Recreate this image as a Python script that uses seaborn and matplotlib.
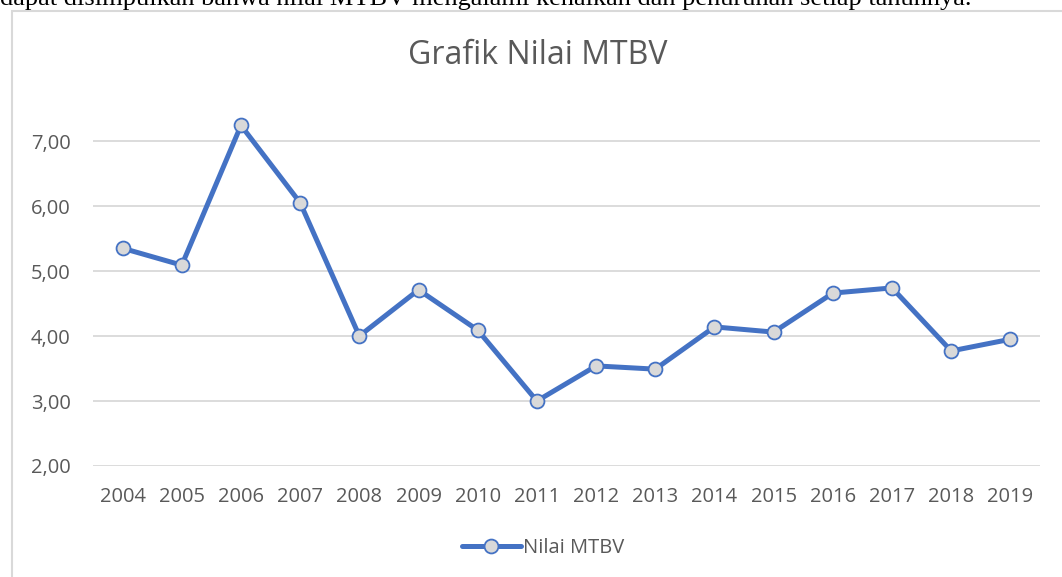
import pandas as pd
import numpy as np
import matplotlib
matplotlib.use('Agg')
import matplotlib.pyplot as plt
from matplotlib.patches import Rectangle
import seaborn as sns

######################################## data ########################################
years = ['2004', '2005', '2006', '2007', '2008', '2009', '2010', '2011',
         '2012', '2013', '2014', '2015', '2016', '2017', '2018', '2019']
mtbv = [5.35, 5.09, 7.24, 6.05, 4.00, 4.71, 4.09, 3.00,
        3.54, 3.49, 4.14, 4.06, 4.66, 4.74, 3.77, 3.95]
yticks = [2, 3, 4, 5, 6, 7]

df = pd.DataFrame({'Tahun': years, 'Nilai MTBV': mtbv})

######################################## plot ########################################
sns.set_style('white')
plt.rcParams['font.family'] = ['Open Sans', 'DejaVu Sans']

W, H = 1062, 577
fig = plt.figure(figsize=(W / 100, H / 100), dpi=100)

# axes placed in pixel terms: left 93, right 1040, 2.00 at y=466
ax = fig.add_axes([93 / W, (H - 466) / H, (1040 - 93) / W, 5.6 * 65 / H])

blue = '#4472C4'
grey_txt = '#595959'

sns.lineplot(data=df, x='Tahun', y='Nilai MTBV', ax=ax, color=blue, linewidth=3.6,
             marker='o', markersize=10, markerfacecolor='#D9D9D9',
             markeredgecolor=blue, markeredgewidth=1.3, label='Nilai MTBV',
             sort=False)

ax.set_ylim(2, 7.6)
ax.set_xlim(-0.5, len(years) - 0.5)
ax.set_yticks(yticks)
ax.set_yticklabels([f'{v:.2f}'.replace('.', ',') for v in yticks])
ax.grid(axis='y', color='#D9D9D9', linewidth=1.3)
ax.set_axisbelow(True)
for s in ax.spines.values():
    s.set_visible(False)
ax.tick_params(axis='both', length=0, labelsize=14.5, colors=grey_txt)
ax.tick_params(axis='y', pad=16)
ax.tick_params(axis='x', pad=15)
ax.set_xlabel('')
ax.set_ylabel('')

ax.legend(loc='center', bbox_to_anchor=(543 / W, 1 - 548 / H),
          bbox_transform=fig.transFigure, frameon=False, fontsize=14.5,
          handlelength=2.9, handletextpad=0.1, labelcolor=grey_txt)

fig.text(538 / W, 1 - 56 / H, 'Grafik Nilai MTBV', ha='center', va='center',
         fontsize=23, color=grey_txt)

# chart frame (cut off at right and bottom)
fig.patches.append(Rectangle((12 / W, -0.1), 1.2, 1 - 11 / H + 0.1,
                             transform=fig.transFigure, fill=False,
                             edgecolor='#D9D9D9', linewidth=1.5))

# line of body text above the chart, clipped at the top
fig.text(0 / W, 1 - 5 / H,
         'dapat disimpulkan bahwa nilai MTBV mengalami kenaikan dan penurunan setiap tahunnya.',
         ha='left', va='baseline', fontsize=19, color='black', family='Liberation Serif')

fig.savefig('out.png', dpi=100)
